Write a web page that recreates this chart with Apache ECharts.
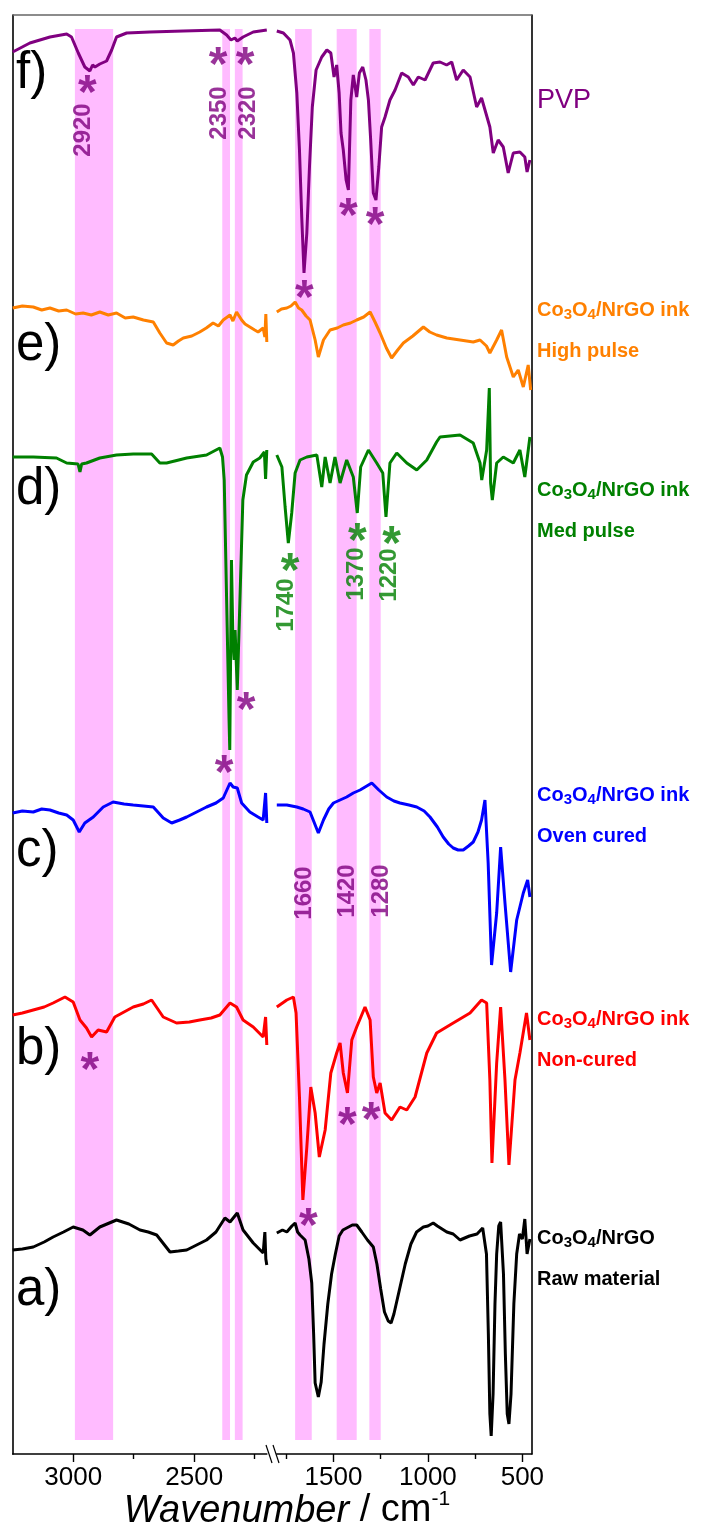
<!DOCTYPE html>
<html><head><meta charset="utf-8">
<script src="https://cdn.jsdelivr.net/npm/echarts@6/dist/echarts.min.js"></script>
<style>html,body{margin:0;padding:0;background:#fff}#c{width:708px;height:1530px}</style>
</head><body><div id="c"></div>
<script>
// wavenumber (cm-1), transmittance offset (a.u.)
const pvpLeft = [[3250,1402],[3179,1411],[3096,1417],[3027,1420],[3007,1417],[2979,1401],[2952,1387],[2931,1383],[2920,1389],[2910,1387],[2890,1390],[2862,1393],[2841,1404],[2821,1417],[2779,1421],[2683,1422],[2545,1423],[2394,1424],[2366,1419],[2348,1414],[2332,1416],[2322,1413],[2298,1417],[2256,1422],[2200,1424]];
const pvpRight = [[1800,1423],[1765,1421],[1730,1414],[1712,1401],[1694,1361],[1680,1304],[1668,1237],[1656,1181],[1641,1221],[1627,1287],[1612,1347],[1592,1384],[1562,1397],[1535,1404],[1514,1401],[1497,1377],[1483,1389],[1470,1361],[1460,1321],[1448,1304],[1433,1274],[1421,1264],[1408,1354],[1395,1379],[1377,1357],[1363,1381],[1345,1387],[1328,1374],[1315,1354],[1303,1314],[1289,1261],[1275,1254],[1260,1287],[1245,1327],[1227,1337],[1201,1354],[1174,1364],[1139,1381],[1104,1377],[1077,1369],[1051,1377],[1015,1374],[972,1391],[936,1392],[901,1389],[874,1392],[848,1374],[813,1384],[777,1377],[742,1347],[716,1356],[672,1327],[654,1301],[628,1314],[601,1307],[575,1281],[548,1301],[513,1302],[487,1297],[475,1282],[460,1294]];
const highLeft = [[3250,1146],[3210,1148],[3165,1147],[3130,1144],[3096,1146],[3060,1143],[3027,1144],[2990,1140],[2959,1141],[2925,1139],[2890,1142],[2855,1139],[2821,1141],[2785,1136],[2752,1137],[2710,1134],[2669,1132],[2642,1121],[2614,1111],[2587,1109],[2565,1113],[2545,1116],[2510,1118],[2477,1122],[2450,1126],[2422,1131],[2400,1128],[2380,1134],[2352,1139],[2340,1133],[2325,1142],[2304,1134],[2290,1130],[2270,1127],[2250,1124],[2236,1122],[2215,1126],[2208,1117],[2204,1140],[2200,1112]];
const highRight = [[1800,1142],[1775,1145],[1747,1146],[1725,1148],[1703,1152],[1685,1146],[1668,1144],[1645,1138],[1624,1134],[1597,1114],[1580,1097],[1553,1114],[1518,1124],[1480,1126],[1448,1129],[1410,1131],[1377,1134],[1340,1137],[1306,1142],[1280,1132],[1253,1121],[1220,1106],[1192,1096],[1160,1104],[1130,1111],[1080,1118],[1024,1127],[990,1122],[954,1119],[900,1116],[830,1114],[760,1112],[724,1114],[690,1108],[672,1101],[636,1114],[610,1124],[583,1097],[548,1077],[522,1084],[495,1067],[469,1089],[456,1064]];
const medLeft = [[3250,997],[3165,997],[3069,996],[3027,991],[2980,990],[2972,982],[2965,990],[2945,991],[2890,996],[2821,999],[2752,1000],[2676,1000],[2642,991],[2614,991],[2531,996],[2449,999],[2394,1006],[2383,997],[2376,974],[2366,854],[2356,734],[2353,704],[2346,894],[2340,814],[2335,794],[2331,824],[2322,764],[2311,854],[2299,954],[2284,979],[2256,992],[2229,996],[2210,1002],[2205,975],[2200,1004]];
const medRight = [[1800,999],[1773,987],[1756,947],[1739,911],[1721,941],[1703,981],[1677,994],[1641,997],[1588,999],[1562,967],[1544,997],[1518,971],[1492,997],[1465,971],[1430,994],[1395,977],[1374,941],[1356,987],[1315,1004],[1271,991],[1239,981],[1222,937],[1201,991],[1165,1001],[1112,991],[1059,984],[1006,994],[954,1012],[936,1017],[830,1019],[760,1011],[724,991],[715,974],[689,1004],[675,1066],[668,971],[659,954],[636,991],[601,997],[548,991],[513,1004],[487,977],[460,1017]];
const ovenLeft = [[3250,641],[3210,643],[3165,642],[3130,645],[3096,644],[3060,641],[3027,639],[3000,634],[2975,622],[2952,631],[2917,637],[2876,647],[2835,652],[2790,650],[2752,649],[2710,648],[2669,647],[2628,636],[2593,631],[2560,634],[2531,637],[2490,642],[2449,647],[2410,651],[2380,656],[2352,671],[2339,667],[2322,666],[2304,651],[2270,642],[2236,637],[2215,634],[2205,661],[2200,631]];
const ovenRight = [[1800,649],[1747,649],[1694,647],[1660,645],[1624,642],[1580,621],[1553,634],[1525,645],[1500,651],[1465,654],[1430,657],[1395,661],[1359,664],[1297,671],[1260,664],[1218,657],[1180,653],[1148,651],[1100,649],[1059,647],[1020,643],[989,637],[950,627],[919,617],[890,610],[866,606],[840,604],[813,604],[785,608],[760,612],[735,622],[716,634],[698,654],[681,591],[663,489],[636,541],[615,607],[592,551],[562,482],[530,534],[495,561],[472,574],[460,557]];
const nonLeft = [[3250,439],[3210,441],[3165,444],[3120,447],[3083,451],[3034,457],[3000,452],[2972,434],[2945,426],[2924,417],[2897,424],[2862,422],[2828,437],[2790,442],[2752,447],[2710,450],[2676,454],[2628,437],[2573,431],[2520,432],[2477,434],[2430,436],[2394,439],[2352,451],[2325,447],[2298,434],[2256,427],[2215,417],[2205,437],[2200,409]];
const nonRight = [[1800,447],[1747,454],[1712,457],[1698,441],[1680,357],[1662,254],[1641,307],[1620,367],[1597,341],[1575,297],[1544,324],[1514,381],[1483,401],[1465,411],[1448,381],[1426,361],[1403,414],[1377,427],[1333,447],[1306,434],[1289,377],[1271,361],[1253,371],[1227,341],[1192,334],[1148,347],[1112,344],[1068,357],[1006,401],[954,421],[866,431],[777,441],[716,454],[689,451],[672,374],[661,291],[636,391],[615,447],[592,374],[571,289],[539,374],[513,401],[478,441],[460,414]];
const rawLeft = [[3250,204],[3210,205],[3165,207],[3120,212],[3083,217],[3040,222],[3000,227],[2960,224],[2931,219],[2890,227],[2821,234],[2770,230],[2724,224],[2690,222],[2655,219],[2600,202],[2565,203],[2531,204],[2490,209],[2449,214],[2410,222],[2373,236],[2352,232],[2322,241],[2298,224],[2256,211],[2215,201],[2208,222],[2204,195],[2200,189]];
const rawRight = [[1800,221],[1770,224],[1747,222],[1720,228],[1703,231],[1690,222],[1677,219],[1650,214],[1630,195],[1615,171],[1605,120],[1597,71],[1580,57],[1565,72],[1550,110],[1530,150],[1510,180],[1490,200],[1470,218],[1450,224],[1430,226],[1400,229],[1377,229],[1350,222],[1320,214],[1289,207],[1270,190],[1250,165],[1230,142],[1210,133],[1195,131],[1180,140],[1150,165],[1120,190],[1090,210],[1060,222],[1024,227],[1000,228],[972,231],[950,228],[900,222],[866,220],[830,214],[780,218],[740,220],[710,226],[700,226],[690,200],[680,120],[672,40],[665,18],[655,60],[645,150],[636,200],[625,228],[615,232],[600,180],[590,100],[580,40],[571,30],[560,60],[545,150],[530,200],[515,220],[500,215],[487,235],[475,200],[460,215]];

const bandsLeft = [[2993,2835],[2384,2352],[2332,2300]];
const bandsRight = [[1703,1615],[1483,1377],[1310,1250]];
const bandY = [14,1425];
const leftTicks = [3000,2500], leftMinor = [2750,2250];
const rightTicks = [1500,1000,500], rightMinor = [1750,1250,750];

const purpleStarsLeft = [[2942,1369],[2401,1397],[2290,1397],[2377,689],[2286,752],[2931,392]];
const purpleStarsRight = [[1654,1164],[1421,1246],[1280,1237],[1426,337],[1301,342],[1633,236]];
const greenStars = [[1730,891],[1374,921],[1192,918]];
const purpleLabelsLeft = [[2959,1324,'2920'],[2394,1341,'2350'],[2278,1341,'2320']];
const purpleLabelsRight = [[1653,561,'1660'],[1425,563,'1420'],[1245,563,'1280']];
const greenLabels = [[1751,849,'1740'],[1380,880,'1370'],[1204,879,'1220']];

const curves = [
  {l: pvpLeft, r: pvpRight, c: '#800080'},
  {l: highLeft, r: highRight, c: '#FF8000'},
  {l: medLeft, r: medRight, c: '#008000'},
  {l: ovenLeft, r: ovenRight, c: '#0000FF'},
  {l: nonLeft, r: nonRight, c: '#FF0000'},
  {l: rawLeft, r: rawRight, c: '#000000'}
];

const FONT = '"Liberation Sans", Arial, sans-serif';
const chart = echarts.init(document.getElementById('c'), null, {renderer: 'canvas'});

function xAx(grid, min, max, vals, len, showLine, showLabel) {
  return {type: 'value', gridIndex: grid, min: min, max: max, inverse: true, position: 'bottom',
    axisLine: {show: showLine, lineStyle: {color: '#000', width: 1.6}},
    axisTick: {show: true, inside: false, length: len, customValues: vals, lineStyle: {color: '#000', width: 1.4}},
    axisLabel: {show: showLabel, customValues: vals, fontSize: 26, color: '#000', fontFamily: FONT, margin: 11,
      formatter: v => String(v)},
    splitLine: {show: false}};
}
function yAx(grid, pos) {
  return {type: 'value', gridIndex: grid, min: 0, max: 1439, position: pos,
    axisLine: {show: true, onZero: false, lineStyle: {color: '#000', width: 1.6}},
    axisTick: {show: false}, axisLabel: {show: false}, splitLine: {show: false}};
}

const series = [];
[[0, 0, bandsLeft], [2, 1, bandsRight]].forEach(([xi, yi, bands]) => {
  series.push({type: 'line', xAxisIndex: xi, yAxisIndex: yi, data: [], z: 1, silent: true,
    markArea: {silent: true, itemStyle: {color: '#FFBBFF'},
      data: bands.map(b => [{xAxis: b[0], yAxis: bandY[0]}, {xAxis: b[1], yAxis: bandY[1]}])}});
});
curves.forEach(cv => {
  [[0, 0, cv.l], [2, 1, cv.r]].forEach(([xi, yi, d]) => {
    series.push({type: 'line', xAxisIndex: xi, yAxisIndex: yi, data: d, showSymbol: false, symbol: 'none',
      z: 3, lineStyle: {color: cv.c, width: 3}, silent: true});
  });
});
function stars(xi, yi, pts, color) {
  return {type: 'scatter', xAxisIndex: xi, yAxisIndex: yi, z: 5, symbolSize: 1, silent: true,
    itemStyle: {color: 'rgba(0,0,0,0)'}, data: pts,
    label: {show: true, position: 'inside', formatter: '*', fontSize: 48, fontWeight: 'bold', color: color,
      fontFamily: FONT, offset: [0, 10]}};
}
function rlabels(xi, yi, pts, color) {
  return {type: 'scatter', xAxisIndex: xi, yAxisIndex: yi, z: 5, symbolSize: 1, silent: true,
    itemStyle: {color: 'rgba(0,0,0,0)'}, data: pts.map(p => ({value: [p[0], p[1]], name: p[2]})),
    label: {show: true, position: 'inside', formatter: '{b}', rotate: 90, fontSize: 24, fontWeight: 'bold',
      color: color, fontFamily: FONT}};
}
series.push(stars(0, 0, purpleStarsLeft, '#800080'));
series.push(stars(2, 1, purpleStarsRight, '#800080'));
series.push(stars(2, 1, greenStars, '#008000'));
series.push(rlabels(0, 0, purpleLabelsLeft, '#800080'));
series.push(rlabels(2, 1, purpleLabelsRight, '#800080'));
series.push(rlabels(2, 1, greenLabels, '#008000'));

const sampleLabels = [
  {lines: ['PVP'], color: '#800080', y: 101, bold: false, size: 27},
  {lines: ['Co{s|3}O{s|4}/NrGO ink', 'High pulse'], color: '#FF8000', y: 310},
  {lines: ['Co{s|3}O{s|4}/NrGO ink', 'Med pulse'], color: '#008000', y: 490},
  {lines: ['Co{s|3}O{s|4}/NrGO ink', 'Oven cured'], color: '#0000FF', y: 795},
  {lines: ['Co{s|3}O{s|4}/NrGO ink', 'Non-cured'], color: '#FF0000', y: 1019},
  {lines: ['Co{s|3}O{s|4}/NrGO', 'Raw material'], color: '#000000', y: 1238}
];
const graphics = [];
sampleLabels.forEach(sl => {
  sl.lines.forEach((t, i) => {
    const sz = sl.size || 20;
    const w = sl.bold === false ? 'normal' : 'bold';
    graphics.push({type: 'text', x: 537, y: sl.y + i * 41, z: 10,
      style: {text: t, textVerticalAlign: 'middle',
        rich: {n: {}, s: {fontSize: 15, fontWeight: 'bold', fill: sl.color, fontFamily: FONT, padding: [10, 0, 0, 0]}},
        fill: sl.color, font: w + ' ' + sz + 'px ' + FONT}});
  });
});
const panels = [['f)', 74], ['e)', 346], ['d)', 490], ['c)', 852], ['b)', 1050], ['a)', 1291]];
panels.forEach(p => {
  graphics.push({type: 'text', x: 16, y: p[1], z: 10,
    style: {text: p[0], fill: '#000', font: 'normal 51px ' + FONT, textVerticalAlign: 'middle'}});
});
graphics.push({type: 'line', z: 10, shape: {x1: 12.7, y1: 15, x2: 531.8, y2: 15}, style: {stroke: '#666', lineWidth: 1.6}});
graphics.push({type: 'line', z: 10, shape: {x1: 266, y1: 1445, x2: 272, y2: 1463}, style: {stroke: '#000', lineWidth: 1.2}});
graphics.push({type: 'line', z: 10, shape: {x1: 273, y1: 1445, x2: 279, y2: 1463}, style: {stroke: '#000', lineWidth: 1.2}});
graphics.push({type: 'text', x: 287, y: 1511, z: 10,
  style: {text: '{i|Wavenumber}{n| / cm}{sup|-1}', textAlign: 'center', textVerticalAlign: 'middle',
    rich: {i: {fontStyle: 'italic', fontSize: 38, fontFamily: FONT, fill: '#000'},
      n: {fontSize: 38, fontFamily: FONT, fill: '#000'},
      sup: {fontSize: 21, fontFamily: FONT, fill: '#000', padding: [0, 0, 24, 0]}}}});

chart.setOption({
  animation: false,
  backgroundColor: '#fff',
  grid: [{left: 12.7, top: 15, width: 254.1, height: 1439}, {left: 276.8, top: 15, width: 255, height: 1439}],
  xAxis: [xAx(0, 2200, 3250, leftTicks, 8, true, true), xAx(0, 2200, 3250, leftMinor, 5, false, false),
          xAx(1, 450, 1800, rightTicks, 8, true, true), xAx(1, 450, 1800, rightMinor, 5, false, false)],
  yAxis: [yAx(0, 'left'), yAx(1, 'right')],
  series: series,
  graphic: graphics
});
</script></body></html>
